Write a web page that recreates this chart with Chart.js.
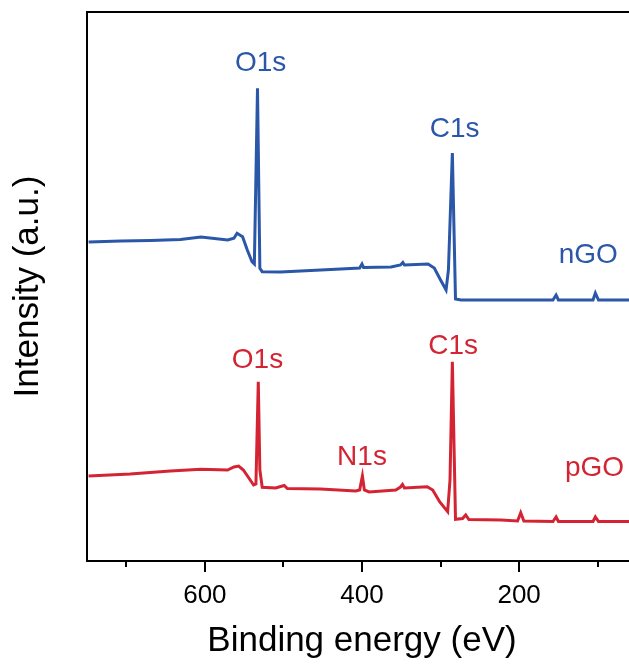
<!DOCTYPE html>
<html>
<head>
<meta charset="utf-8">
<script src="https://cdn.jsdelivr.net/npm/chart.js@4.4.1/dist/chart.umd.min.js"></script>
<style>
    html, body { margin: 0; padding: 0; background: #fff; overflow: hidden; }
    #wrap { width: 637px; height: 666px; }
</style>
</head>
<body>
<div id="wrap"><canvas id="xpsChart"></canvas></div>
<script>
// binding energy (eV) and intensity (a.u.)
const energyNGO = [748, 707, 669, 631, 605, 571, 563, 559, 552, 546, 540, 537, 533, 530, 527, 504, 478, 427, 403, 400, 398, 363, 351, 348, 346, 316, 308, 300, 293, 290, 285, 281, 274, 223, 157, 153, 150, 106, 103, 99, 50];
const intensityNGO = [319, 320, 320.5, 321.5, 324, 321, 322.7, 327.7, 324.3, 311, 299.3, 297, 472.7, 292.7, 289.3, 289, 290, 292, 293, 297, 293.5, 294, 296, 298.5, 296, 297, 293, 281, 271, 291, 408, 262, 261, 261, 261, 266, 261, 261, 268, 261, 261];

const energyPGO = [748, 695, 644, 605, 571, 563, 557, 551, 544, 538, 535, 532, 530, 527, 510, 499, 495, 453, 408, 403, 399.5, 397, 391, 357, 351, 348.5, 346, 317, 310, 301, 291, 288, 285, 282.5, 281, 272, 268, 264, 223, 202, 198, 194, 157, 153, 150, 106, 103, 99, 50];
const intensityPGO = [85, 87, 90, 91.7, 91, 94, 95, 91, 83, 76, 77, 179.3, 91, 73.7, 73, 75.5, 72.5, 72, 70, 71, 85, 71, 69, 71, 74, 76.5, 73, 74.3, 71, 59, 49.3, 81, 199.3, 101, 41.7, 42.5, 46, 41.5, 41, 40, 48.3, 40, 39.5, 44, 39.5, 39.5, 44, 39.5, 39.5];

const peakLabels = ["O1s", "C1s", "nGO", "O1s", "N1s", "C1s", "pGO"];
const peakLabelEnergy = [529, 282, 112, 533, 400, 284, 104];
const peakLabelIntensity = [498, 432, 306, 201, 103.5, 215, 93];
const peakLabelSeries = [0, 0, 0, 1, 1, 1, 1];

const xTickValues = [700, 600, 500, 400, 300, 200, 100];
const xTickLabels = [600, 400, 200];

const blue = "#2b57a8";
const red = "#d42433";
const fontFamily = "'Liberation Sans', Arial, Helvetica, sans-serif";

function toPoints(xs, ys) {
    return xs.map((x, i) => ({ x: x, y: ys[i] }));
}

// labelled ticks are long, the others short
const tickMarks = {
    id: "tickMarks",
    afterDraw(chart) {
        const xs = chart.scales.x;
        const ctx = chart.ctx;
        const base = chart.chartArea.bottom;
        ctx.save();
        ctx.strokeStyle = "#000";
        ctx.lineWidth = 2;
        xs.ticks.forEach(t => {
            const len = xTickLabels.includes(t.value) ? 11 : 6;
            const px = Math.round(xs.getPixelForValue(t.value));
            ctx.beginPath();
            ctx.moveTo(px, base);
            ctx.lineTo(px, base + len);
            ctx.stroke();
        });
        ctx.restore();
    }
};

const peakText = {
    id: "peakText",
    afterDatasetsDraw(chart) {
        const ctx = chart.ctx;
        const xs = chart.scales.x;
        const ys = chart.scales.y;
        ctx.save();
        ctx.font = "28px " + fontFamily;
        ctx.textAlign = "center";
        ctx.textBaseline = "middle";
        peakLabels.forEach((txt, i) => {
            ctx.fillStyle = peakLabelSeries[i] === 0 ? blue : red;
            ctx.fillText(txt, xs.getPixelForValue(peakLabelEnergy[i]), ys.getPixelForValue(peakLabelIntensity[i]));
        });
        ctx.restore();
    }
};

Chart.defaults.font.family = fontFamily;
Chart.defaults.color = "#000";

new Chart(document.getElementById("xpsChart"), {
    type: "line",
    data: {
        datasets: [{
            label: "nGO",
            data: toPoints(energyNGO, intensityNGO),
            borderColor: blue,
            borderWidth: 3,
            pointRadius: 0,
            tension: 0
        }, {
            label: "pGO",
            data: toPoints(energyPGO, intensityPGO),
            borderColor: red,
            borderWidth: 3,
            pointRadius: 0,
            tension: 0
        }]
    },
    options: {
        responsive: true,
        maintainAspectRatio: false,
        animation: false,
        layout: { padding: 0 },
        plugins: {
            legend: { display: false },
            tooltip: { enabled: false }
        },
        scales: {
            x: {
                type: "linear",
                position: "bottom",
                reverse: true,
                min: 50,
                max: 750,
                afterFit: s => { s.height = 105; },
                afterBuildTicks: s => { s.ticks = xTickValues.map(v => ({ value: v })); },
                border: { display: true, color: "#000", width: 2 },
                grid: {
                    drawOnChartArea: false,
                    drawTicks: true,
                    tickLength: 11,
                    color: "rgba(0,0,0,0)"
                },
                ticks: {
                    autoSkip: false,
                    maxRotation: 0,
                    padding: 8,
                    font: { size: 26 },
                    color: "#000",
                    callback: v => xTickLabels.includes(v) ? String(v) : ""
                },
                title: {
                    display: true,
                    text: "Binding energy (eV)",
                    font: { size: 35 },
                    color: "#000",
                    padding: { top: 0, bottom: 4 }
                }
            },
            xTop: {
                type: "linear",
                position: "top",
                reverse: true,
                min: 50,
                max: 750,
                afterFit: s => { s.height = 12; },
                border: { display: true, color: "#000", width: 2 },
                grid: { display: false },
                ticks: { display: false }
            },
            y: {
                min: 0,
                max: 549,
                afterFit: s => { s.width = 87; },
                border: { display: true, color: "#000", width: 2 },
                grid: { display: false },
                ticks: { display: false },
                title: {
                    display: true,
                    text: "Intensity (a.u.)",
                    font: { size: 35 },
                    color: "#000",
                    padding: { top: 7, bottom: 0 }
                }
            }
        }
    },
    plugins: [tickMarks, peakText]
});
</script>
</body>
</html>
